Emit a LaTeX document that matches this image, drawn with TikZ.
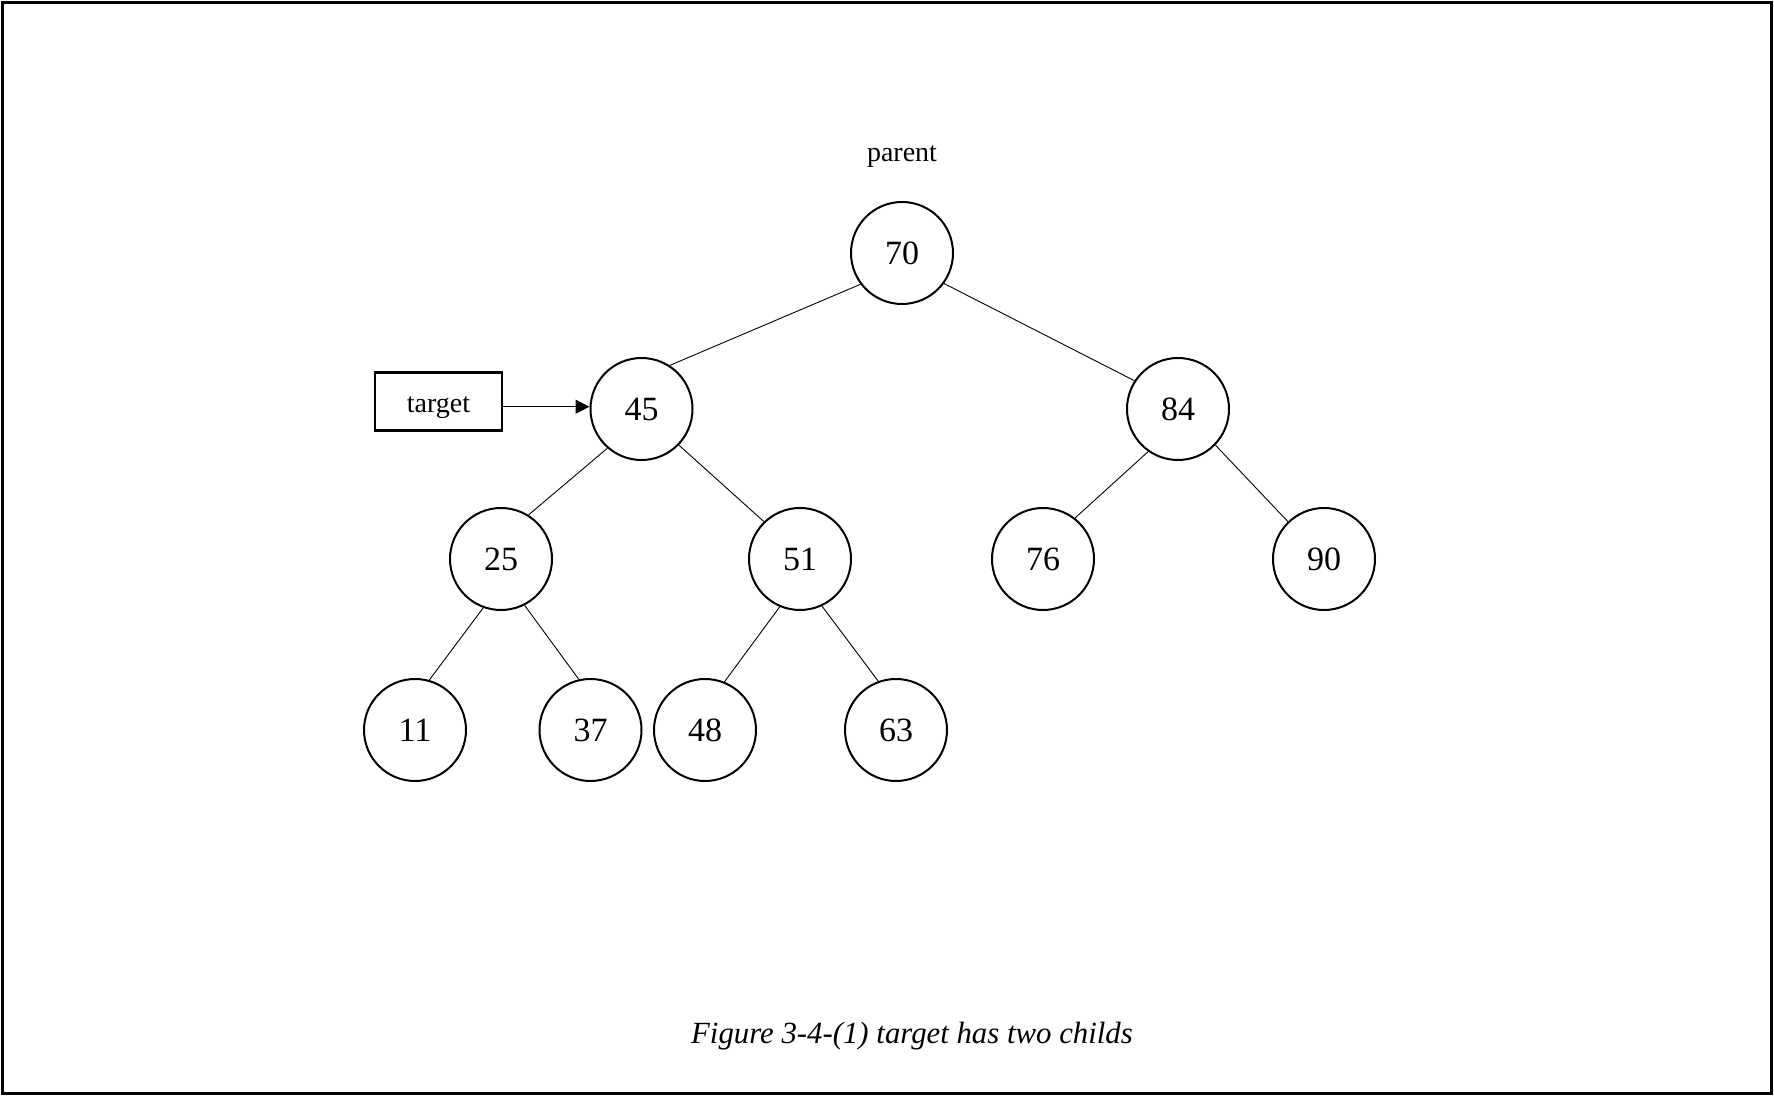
\documentclass[tikz,border=0pt]{standalone}
\usepackage{fontspec}
\setmainfont{Liberation Serif}
\usetikzlibrary{arrows.meta}
\begin{document}
\begin{tikzpicture}[x=0.5pt,y=-0.5pt,
  keynode/.style={circle,draw,line width=1pt,minimum size=51pt,inner sep=0pt,font=\fontsize{17}{20}\selectfont},
  edge/.style={line width=0.45pt},
  labelbox/.style={draw,line width=1.3pt,minimum width=63.5pt,minimum height=29pt,inner sep=0pt,text height=0pt,text depth=0pt,font=\fontsize{14}{17}\selectfont}]
\useasboundingbox (0,0) rectangle (1774,1096);
\draw[line width=1.2pt] (2.5,2.5) rectangle (1771.5,1093.5);
\node[font=\fontsize{14}{17}\selectfont] (parent) at (902,156.5) {parent};
\node[keynode] (n70) at (902,253) {70};
\node[keynode] (n45) at (641.5,409) {45};
\node[keynode] (n84) at (1178,409) {84};
\node[keynode] (n25) at (501,559) {25};
\node[keynode] (n51) at (800,559) {51};
\node[keynode] (n76) at (1043,559) {76};
\node[keynode] (n90) at (1324,559) {90};
\node[keynode] (n11) at (415,730) {11};
\node[keynode] (n37) at (590.5,730) {37};
\node[keynode] (n48) at (705,730) {48};
\node[keynode] (n63) at (896,730) {63};
\node[labelbox] (target) at (438.5,401.7) {\raisebox{-5.2pt}{target}};
\node[font=\itshape\fontsize{15.4}{18}\selectfont] (caption) at (912,1036.5) {Figure 3-4-(1) target has two childs};
\draw[edge] (n70.217) -- (n45.57.6);
\draw[edge] (n70.324) -- (n84.147);
\draw[edge] (n45.229) -- (n25.58);
\draw[edge] (n45.316) -- (n51.134.5);
\draw[edge] (n84.235) -- (n76.52);
\draw[edge] (n84.316) -- (n90.134.5);
\draw[edge] (n25.250) -- (n11.74.5);
\draw[edge] (n25.297) -- (n37.103.5);
\draw[edge] (n51.247) -- (n48.68);
\draw[edge] (n51.295.5) -- (n63.110);
\draw[line width=0.6pt,-{Triangle[length=7pt,width=7pt]}] ([yshift=-2.5pt]target.east) -- ([yshift=-2.5pt]target.east -| n45.west);
\end{tikzpicture}
\end{document}
